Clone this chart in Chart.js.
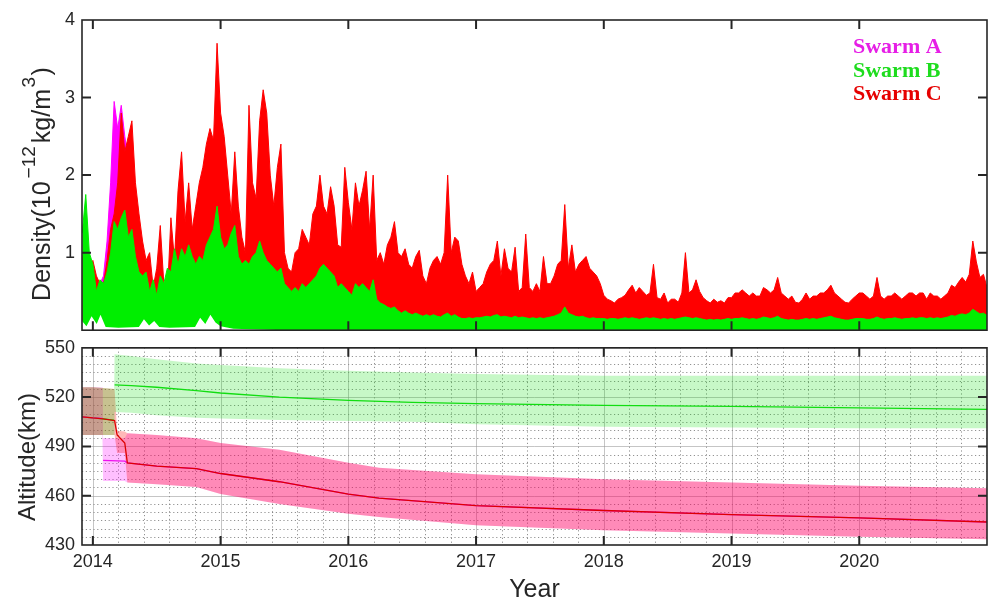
<!DOCTYPE html>
<html>
<head>
<meta charset="utf-8">
<script src="https://cdn.jsdelivr.net/npm/chart.js@4.4.1/dist/chart.umd.min.js"></script>
<style>
    body { margin: 0; background: #fff; width: 988px; height: 600px; position: relative; overflow: hidden; }
    canvas { position: absolute; left: 0; }
    #density-chart { top: 0; }
    #altitude-chart { top: 330px; }
</style>
</head>
<body>
<canvas id="density-chart" width="988" height="348"></canvas>
<canvas id="altitude-chart" width="988" height="270"></canvas>
<script>
// ---- data ----
const X_MIN = 2013.915, X_MAX = 2021.0;
const YEAR_TICKS = [2014, 2015, 2016, 2017, 2018, 2019, 2020];
const DENSITY_TICKS = [1, 2, 3, 4];
const ALT_TICKS = [430, 460, 490, 520, 550];

// density samples every 1/36 year starting Dec 2013 (10^-12 kg/m^3)
const GRID_START = 2013.9167, GRID_STEP = 1 / 36;

const SWARM_C_DENSITY = [
    0.9, 1.2, 0.8,
    // 2014
    0.9, 0.7, 0.6, 0.6, 0.9, 1.3, 1.5, 1.9, 2.8, 2.3, 2.5, 2.7, 1.9, 1.5, 1.15, 0.9, 1.0, 0.55,
    0.8, 1.35, 0.6, 0.45, 1.45, 0.9, 1.8, 2.3, 1.4, 1.9, 1.3, 1.6, 1.9, 2.1, 2.4, 2.6, 2.45, 3.7,
    // 2015
    2.8, 2.5, 2.0, 1.5, 2.3, 1.6, 1.2, 1.0, 2.9, 1.9, 1.7, 2.7, 3.1, 2.8, 2.0, 1.6, 2.1, 2.4,
    1.0, 0.8, 0.75, 1.0, 1.05, 1.3, 1.2, 1.1, 1.5, 1.6, 2.0, 1.6, 1.5, 1.85, 1.6, 1.1, 1.07, 2.1,
    // 2016
    1.65, 1.3, 1.9, 1.6, 1.8, 2.05, 1.3, 2.0, 0.9, 1.0, 0.85, 1.1, 1.2, 1.4, 1.0, 0.95, 1.05, 0.85,
    0.8, 0.95, 1.03, 0.7, 0.6, 0.8, 0.9, 0.95, 0.85, 1.0, 2.0, 1.0, 1.2, 1.15, 0.85, 0.7, 0.6, 0.75,
    // 2017
    0.5, 0.55, 0.6, 0.75, 0.85, 0.9, 1.15, 0.7, 1.05, 0.8, 0.75, 1.07, 0.5, 0.55, 1.24, 0.55, 0.5, 0.6,
    0.5, 0.95, 0.6, 0.6, 0.7, 0.85, 0.9, 1.62, 0.8, 1.1, 0.75, 0.85, 0.9, 0.95, 0.8, 0.75, 0.7, 0.6,
    // 2018
    0.45, 0.4, 0.38, 0.35, 0.4, 0.42, 0.45, 0.52, 0.58, 0.48, 0.55, 0.5, 0.45, 0.48, 0.85, 0.42, 0.4, 0.48,
    0.35, 0.4, 0.4, 0.36, 0.48, 1.0, 0.48, 0.52, 0.65, 0.5, 0.42, 0.38, 0.35, 0.4, 0.36, 0.38, 0.35, 0.42,
    // 2019
    0.42, 0.48, 0.48, 0.52, 0.48, 0.44, 0.48, 0.44, 0.44, 0.55, 0.52, 0.48, 0.52, 0.68, 0.48, 0.44, 0.4, 0.44,
    0.36, 0.35, 0.4, 0.48, 0.4, 0.44, 0.44, 0.48, 0.48, 0.52, 0.58, 0.48, 0.44, 0.4, 0.36, 0.35, 0.4, 0.44,
    // 2020
    0.48, 0.48, 0.44, 0.4, 0.44, 0.68, 0.44, 0.4, 0.44, 0.44, 0.48, 0.44, 0.4, 0.44, 0.48, 0.48, 0.44, 0.48,
    0.48, 0.4, 0.48, 0.44, 0.44, 0.4, 0.44, 0.48, 0.58, 0.55, 0.62, 0.68, 0.62, 0.72, 1.15, 0.88, 0.68, 0.72,
    0.55
];

const SWARM_B_DENSITY = [
    1.25, 1.75, 1.0,
    // 2014
    0.85, 0.5, 0.65, 0.6, 0.75, 1.0, 1.4, 1.3, 1.45, 1.55, 1.2, 1.3, 0.95, 0.75, 0.7, 0.75, 0.5, 0.65,
    0.45, 0.7, 0.6, 0.8, 0.75, 1.05, 0.85, 1.05, 0.95, 1.1, 0.95, 0.85, 0.95, 0.9, 1.1, 1.2, 1.3, 1.6,
    // 2015
    1.2, 1.05, 1.1, 1.25, 1.35, 0.95, 0.85, 0.9, 0.85, 0.95, 1.0, 1.15, 1.0, 0.9, 0.85, 0.8, 0.75, 0.8,
    0.6, 0.55, 0.5, 0.55, 0.5, 0.6, 0.55, 0.6, 0.65, 0.7, 0.8, 0.85, 0.8, 0.75, 0.7, 0.55, 0.6, 0.55,
    // 2016
    0.5, 0.45, 0.6, 0.55, 0.6, 0.55, 0.5, 0.65, 0.4, 0.35, 0.33, 0.3, 0.28, 0.3, 0.25, 0.22, 0.25, 0.22,
    0.2, 0.22, 0.2, 0.18, 0.2, 0.18, 0.2, 0.18, 0.17, 0.2, 0.22, 0.18, 0.2, 0.17, 0.15, 0.15, 0.16, 0.15,
    // 2017
    0.16, 0.16, 0.17, 0.18, 0.17, 0.19, 0.2, 0.17, 0.18, 0.17, 0.16, 0.18, 0.16, 0.17, 0.16, 0.15, 0.16, 0.15,
    0.16, 0.15, 0.16, 0.17, 0.18, 0.2, 0.22, 0.3, 0.22, 0.2, 0.18, 0.17, 0.18, 0.16, 0.15, 0.16, 0.15, 0.15,
    // 2018
    0.15, 0.14, 0.15, 0.15, 0.14, 0.15, 0.16, 0.15, 0.16, 0.15, 0.14, 0.15, 0.16, 0.15, 0.16, 0.15, 0.14, 0.15,
    0.14, 0.15, 0.14, 0.15, 0.16, 0.17, 0.16, 0.15, 0.16, 0.15, 0.14, 0.13, 0.14, 0.13, 0.14, 0.13, 0.14, 0.15,
    // 2019
    0.14, 0.15, 0.15, 0.16, 0.15, 0.14, 0.15, 0.14, 0.15, 0.17, 0.16, 0.15, 0.16, 0.18, 0.15, 0.14, 0.13, 0.14,
    0.13, 0.13, 0.14, 0.15, 0.14, 0.15, 0.14, 0.15, 0.16, 0.17, 0.18, 0.16, 0.15, 0.14, 0.13, 0.13, 0.14, 0.15,
    // 2020
    0.15, 0.15, 0.14, 0.14, 0.15, 0.17, 0.15, 0.14, 0.15, 0.15, 0.16, 0.15, 0.14, 0.15, 0.15, 0.16, 0.15, 0.16,
    0.16, 0.15, 0.16, 0.15, 0.16, 0.15, 0.16, 0.17, 0.19, 0.18, 0.2, 0.21, 0.2, 0.22, 0.27, 0.24, 0.21, 0.22,
    0.19
];

// Swarm A only shows above C in early 2014 (starts at grid index 5)
const SWARM_A_OFFSET = 5;
const SWARM_A_DENSITY = [0.6, 0.7, 1.15, 1.9, 2.95, 2.6, 2.9, 2.5, 2.2, 2.0, 1.5];

// lowest densities (white gaps under the green) in 2014-2015
const FLOOR_YEARS = [2013.915, 2013.95, 2013.99, 2014.03, 2014.06, 2014.1, 2014.2, 2014.36, 2014.4, 2014.44, 2014.48,
    2014.52, 2014.6, 2014.8, 2014.84, 2014.88, 2014.92, 2014.96, 2015.0, 2015.1, 2015.5];
const FLOOR_VALUES = [0.12, 0.05, 0.18, 0.08, 0.2, 0.04, 0.03, 0.04, 0.14, 0.06, 0.12,
    0.04, 0.03, 0.04, 0.16, 0.08, 0.2, 0.1, 0.05, 0.02, 0];

// altitude (km): mean line plus upper/lower orbit range; null = gap in the mean line
const ALT_YEARS_A = [2013.915, 2014.0, 2014.075, 2014.078, 2014.08, 2014.25, 2014.27, 2014.5, 2014.81, 2015.0, 2015.46, 2016.0, 2016.24, 2017.0, 2018.0, 2019.0, 2020.0, 2021.0];
const ALT_A = [508, 507.3, 507, null, 481.5, 481, 480, 478, 476.5, 473.5, 468.5, 461, 458.5, 454, 451, 448.5, 446.5, 444];
const ALT_A_HIGH = [526, 526, 525.8, 525.8, 495, 495, 498, 497, 495, 492, 488, 480, 477, 473, 470, 468, 466, 464.5];
const ALT_A_LOW = [497, 497, 497, 497, 469, 469, 468, 467, 465.3, 461, 455, 449, 447, 442, 439, 437, 435, 433.5];

const ALT_YEARS_B = [2013.915, 2014.0, 2014.08, 2014.165, 2014.167, 2014.17, 2014.3, 2014.5, 2014.81, 2015.0, 2015.46, 2016.0, 2016.5, 2017.0, 2018.0, 2019.0, 2020.0, 2021.0];
const ALT_B = [508, 507.3, 506.8, 506, null, 527.5, 527, 526, 524, 522.5, 520, 518, 516.8, 516, 515, 514.3, 513.5, 512.5];
const ALT_B_HIGH = [526, 526, 525.5, 525, 525, 546, 545, 543, 540.5, 539.5, 537.5, 536, 535, 534, 533, 533, 533, 533];
const ALT_B_LOW = [497, 497, 497, 497, 497, 511, 510.5, 509, 507.5, 507, 506, 505.5, 505, 503.5, 502, 501.5, 501, 501];

const ALT_YEARS_C = [2013.915, 2014.0, 2014.08, 2014.17, 2014.19, 2014.25, 2014.27, 2014.5, 2014.81, 2015.0, 2015.46, 2016.0, 2016.24, 2017.0, 2018.0, 2019.0, 2020.0, 2021.0];
const ALT_C = [508, 507.3, 506.8, 505.7, 497, 492, 480, 478, 476.5, 473.5, 468.5, 461, 458.5, 454, 451, 448.5, 446.5, 444];
const ALT_C_HIGH = [526, 526, 525.5, 525, 499.5, 499, 498, 497, 495, 492, 488, 480, 477, 473, 470, 468, 466, 464.5];
const ALT_C_LOW = [497, 497, 497, 497, 486, 486, 468, 467, 465.3, 461, 455, 449, 447, 442, 439, 437, 435, 433.5];

const LEGEND = [
    { label: "Swarm A", color: "#e61ee6" },
    { label: "Swarm B", color: "#1edc1e" },
    { label: "Swarm C", color: "#e60000" }
];

// ---- helpers ----
const SANS = '"Liberation Sans", Arial, sans-serif';
const INK = "#262626";

const gridPoints = (vals, offset = 0) => vals.map((v, k) => ({ x: GRID_START + (k + offset) * GRID_STEP, y: v }));
const pairPoints = (xs, ys) => xs.map((x, k) => ({ x, y: ys[k] }));

function drawRotatedTitle(ctx, baseX, centerY, parts) {
    ctx.save();
    ctx.translate(baseX, centerY);
    ctx.rotate(-Math.PI / 2);
    ctx.fillStyle = INK;
    ctx.textBaseline = "alphabetic";
    let total = 0;
    parts.forEach(p => {
        ctx.font = `${p.size}px ${SANS}`;
        p.w = ctx.measureText(p.text).width + (p.gap || 0);
        total += p.w;
    });
    let x = -total / 2;
    parts.forEach(p => {
        ctx.font = `${p.size}px ${SANS}`;
        ctx.fillText(p.text, x + (p.gap || 0) / 2, p.dy || 0);
        x += p.w;
    });
    ctx.restore();
}

function drawAltGrid(chart) {
    const { ctx, chartArea: a, scales: { x, y } } = chart;
    ctx.save();
    ctx.beginPath();
    ctx.rect(a.left, a.top, a.right - a.left, a.bottom - a.top);
    ctx.clip();
    // dotted minor grid
    ctx.strokeStyle = "rgba(100,100,100,0.7)";
    ctx.lineWidth = 1;
    ctx.setLineDash([1.2, 2.6]);
    ctx.beginPath();
    for (let v = 435; v < 550; v += 5) {
        if (ALT_TICKS.includes(v)) continue;
        const py = Math.round(y.getPixelForValue(v)) + 0.5;
        ctx.moveTo(a.left, py); ctx.lineTo(a.right, py);
    }
    for (let k = -1; k < 40; k++) {
        const t = 2014 + k * 0.2;
        if (t <= X_MIN || t >= X_MAX || k % 5 === 0) continue;
        const px = Math.round(x.getPixelForValue(t)) + 0.5;
        ctx.moveTo(px, a.top); ctx.lineTo(px, a.bottom);
    }
    ctx.stroke();
    // solid major grid
    ctx.setLineDash([]);
    ctx.strokeStyle = "rgba(150,150,150,0.55)";
    ctx.beginPath();
    ALT_TICKS.forEach(v => {
        const py = Math.round(y.getPixelForValue(v)) + 0.5;
        ctx.moveTo(a.left, py); ctx.lineTo(a.right, py);
    });
    YEAR_TICKS.forEach(t => {
        const px = Math.round(x.getPixelForValue(t)) + 0.5;
        ctx.moveTo(px, a.top); ctx.lineTo(px, a.bottom);
    });
    ctx.stroke();
    ctx.restore();
}

function drawFrame(chart, yTicks) {
    const { ctx, chartArea: a, scales: { x, y } } = chart;
    const len = 9;
    ctx.save();
    ctx.strokeStyle = INK;
    ctx.lineWidth = 2;
    ctx.beginPath();
    YEAR_TICKS.forEach(t => {
        const px = x.getPixelForValue(t);
        ctx.moveTo(px, a.top); ctx.lineTo(px, a.top + len);
        ctx.moveTo(px, a.bottom); ctx.lineTo(px, a.bottom - len);
    });
    yTicks.forEach(v => {
        const py = y.getPixelForValue(v);
        ctx.moveTo(a.left, py); ctx.lineTo(a.left + len, py);
        ctx.moveTo(a.right, py); ctx.lineTo(a.right - len, py);
    });
    ctx.stroke();
    ctx.lineWidth = 1.6;
    ctx.strokeRect(a.left, a.top, a.right - a.left, a.bottom - a.top);
    ctx.restore();
}

const panelPlugin = {
    id: "panel",
    beforeDatasetsDraw(chart, args, opts) {
        if (opts.grid) drawAltGrid(chart);
    },
    afterDatasetsDraw(chart, args, opts) {
        drawFrame(chart, opts.innerTicks);
        if (opts.decorate) opts.decorate(chart);
    }
};

function yAxis(min, max, ticks) {
    return {
        min, max,
        afterBuildTicks: s => { s.ticks = ticks.map(v => ({ value: v })); },
        afterFit: s => { s.width = 82; },
        grid: { display: false, drawTicks: false },
        border: { display: false },
        ticks: { color: INK, font: { family: SANS, size: 18 }, padding: 7, callback: v => String(v) }
    };
}

// ---- density panel ----
const line = (data, color, order, extra = {}) => Object.assign({
    data, order, borderColor: color, backgroundColor: color, borderWidth: 1,
    pointRadius: 0, tension: 0, fill: "origin"
}, extra);

new Chart(document.getElementById("density-chart"), {
    type: "line",
    data: {
        datasets: [
            line(pairPoints(FLOOR_YEARS, FLOOR_VALUES), "#ffffff", 0, { borderWidth: 0 }),
            line(gridPoints(SWARM_B_DENSITY), "#00ee00", 1),
            line(gridPoints(SWARM_C_DENSITY), "#ff0000", 2),
            line(gridPoints(SWARM_A_DENSITY, SWARM_A_OFFSET), "#ff00ff", 3)
        ]
    },
    options: {
        responsive: false, animation: false, events: [],
        layout: { padding: { top: 20, right: 1, bottom: 1, left: 0 } },
        plugins: {
            legend: { display: false }, tooltip: { enabled: false },
            panel: {
                innerTicks: [1, 2, 3],
                decorate: chart => {
                    const ctx = chart.ctx;
                    drawRotatedTitle(ctx, 50, 184, [
                        { text: "Density(10", size: 25 },
                        { text: "\u221212", size: 19, dy: -15, gap: 6 },
                        { text: "kg/m", size: 25 },
                        { text: "3", size: 19, dy: -15, gap: 3 },
                        { text: ")", size: 25 }
                    ]);
                    ctx.save();
                    ctx.font = 'bold 22px "Liberation Serif", "Times New Roman", serif';
                    ctx.textBaseline = "alphabetic";
                    LEGEND.forEach((l, k) => {
                        ctx.fillStyle = l.color;
                        ctx.fillText(l.label, 853, 53 + k * 23.5);
                    });
                    ctx.restore();
                }
            }
        },
        scales: {
            x: { type: "linear", min: X_MIN, max: X_MAX, display: false },
            y: yAxis(0, 4, DENSITY_TICKS)
        }
    },
    plugins: [panelPlugin]
});

// ---- altitude panel ----
const band = (data, color, order, fill) => ({
    data, order, fill, backgroundColor: color, borderWidth: 0, pointRadius: 0, tension: 0
});
const trace = (data, color, order) => ({
    data, order, fill: false, borderColor: color, borderWidth: 1.3, pointRadius: 0, tension: 0, spanGaps: false
});

new Chart(document.getElementById("altitude-chart"), {
    type: "line",
    data: {
        datasets: [
            band(pairPoints(ALT_YEARS_A, ALT_A_HIGH), "rgba(0,0,0,0)", 8, false),
            band(pairPoints(ALT_YEARS_A, ALT_A_LOW), "rgba(255,0,255,0.25)", 7, "-1"),
            band(pairPoints(ALT_YEARS_C, ALT_C_HIGH), "rgba(0,0,0,0)", 6, false),
            band(pairPoints(ALT_YEARS_C, ALT_C_LOW), "rgba(255,0,0,0.28)", 5, "-1"),
            band(pairPoints(ALT_YEARS_B, ALT_B_HIGH), "rgba(0,0,0,0)", 4, false),
            band(pairPoints(ALT_YEARS_B, ALT_B_LOW), "rgba(0,225,0,0.22)", 3, "-1"),
            trace(pairPoints(ALT_YEARS_B, ALT_B), "#11dd11", 2),
            trace(pairPoints(ALT_YEARS_A, ALT_A), "#ee11ee", 1),
            trace(pairPoints(ALT_YEARS_C, ALT_C), "#dd0000", 0)
        ]
    },
    options: {
        responsive: false, animation: false, events: [],
        layout: { padding: { top: 17, right: 1, bottom: 0, left: 0 } },
        plugins: {
            legend: { display: false }, tooltip: { enabled: false },
            panel: {
                grid: true,
                innerTicks: [460, 490, 520],
                decorate: chart => {
                    const ctx = chart.ctx;
                    drawRotatedTitle(ctx, 35, 127, [{ text: "Altitude(km)", size: 24 }]);
                    ctx.save();
                    ctx.fillStyle = INK;
                    ctx.font = `25px ${SANS}`;
                    ctx.textAlign = "center";
                    ctx.textBaseline = "alphabetic";
                    const a = chart.chartArea;
                    ctx.fillText("Year", (a.left + a.right) / 2, 267);
                    ctx.restore();
                }
            }
        },
        scales: {
            x: {
                type: "linear", min: X_MIN, max: X_MAX, position: "bottom",
                afterBuildTicks: s => { s.ticks = YEAR_TICKS.map(v => ({ value: v })); },
                afterFit: s => { s.height = 55; },
                grid: { display: false, drawTicks: false },
                border: { display: false },
                ticks: { color: INK, font: { family: SANS, size: 18 }, padding: 6, maxRotation: 0, callback: v => String(v) }
            },
            y: yAxis(430, 550, ALT_TICKS)
        }
    },
    plugins: [panelPlugin]
});
</script>
</body>
</html>
